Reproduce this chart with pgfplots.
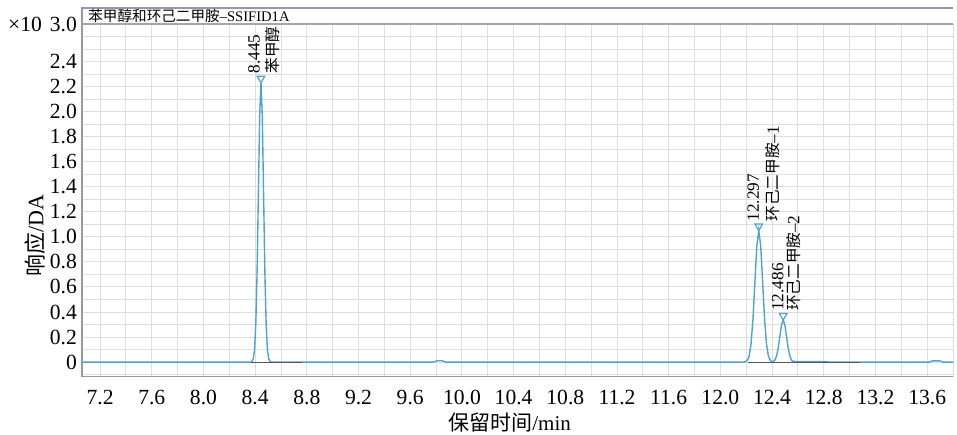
\documentclass[border=0pt]{standalone}
\usepackage{fontspec}
\setmainfont{Liberation Serif}
\newfontfamily\cjk{Noto Sans CJK SC}
\usepackage{pgfplots}
\pgfplotsset{compat=1.18}
\definecolor{trace}{RGB}{78,163,203}
\definecolor{gridc}{RGB}{222,222,226}
\definecolor{basel}{RGB}{85,85,95}
\definecolor{framec}{RGB}{150,150,175}

\begin{document}
\begin{tikzpicture}
\begin{axis}[
  scale only axis, width=435.5pt, height=176.25pt,
  xmin=7.06, xmax=13.8, ymin=-0.115, ymax=2.7,
  axis line style={draw=none},
  tick style={draw=none},
  xtick={7.2,7.6,8.0,8.4,8.8,9.2,9.6,10.0,10.4,10.8,11.2,11.6,12.0,12.4,12.8,13.2,13.6},
  xticklabels={7.2,7.6,8.0,8.4,8.8,9.2,9.6,10.0,10.4,10.8,11.2,11.6,12.0,12.4,12.8,13.2,13.6},
  minor xtick={7.4,7.8,8.2,8.6,9.0,9.4,9.8,10.2,10.6,11.0,11.4,11.8,12.2,12.6,13.0,13.4,13.8},
  ytick={0,0.2,0.4,0.6,0.8,1.0,1.2,1.4,1.6,1.8,2.0,2.2,2.4},
  yticklabels={0,0.2,0.4,0.6,0.8,1.0,1.2,1.4,1.6,1.8,2.0,2.2,2.4},
  minor ytick={-0.1,0.1,0.3,0.5,0.7,0.9,1.1,1.3,1.5,1.7,1.9,2.1,2.3,2.5,2.6},
  extra y ticks={2.7},
  extra y tick labels={×10\hspace{4pt}3.0},
  extra y tick style={grid=none},
  grid=both,
  major grid style={gridc, line width=0.5pt},
  minor grid style={gridc, line width=0.5pt},
  /pgf/number format/assume math mode=true,
  ticklabel style={font=\fontsize{10.8}{12}\selectfont},
  xticklabel shift=3.5pt,
  yticklabel shift=-1pt,
  xlabel={{\cjk 保留时间}/min},
  ylabel={{\cjk 响应}/DA},
  xlabel style={font=\fontsize{10.5}{12}\selectfont, at={(rel axis cs:0.491,0)}, anchor=center, yshift=-23.2pt},
  ylabel style={font=\fontsize{11}{13}\selectfont, at={(rel axis cs:-0.054,0.40)}, anchor=center},
  clip=false,
]
% chromatogram trace
\addplot[trace, line width=0.7pt] coordinates {
 (7.06,0) (8.36,0)
 (8.365,0.001) (8.375,0.005) (8.385,0.025) (8.395,0.098) (8.405,0.302) (8.415,0.724)
 (8.425,1.352) (8.435,1.968) (8.445,2.23) (8.455,1.968) (8.465,1.352) (8.475,0.724)
 (8.485,0.302) (8.495,0.098) (8.505,0.025) (8.515,0.005) (8.525,0.001) (8.53,0)
 (9.78,0) (9.80,0.008) (9.82,0.012) (9.85,0.010) (9.87,0)
 (12.17,0) (12.192,0.002) (12.207,0.012) (12.222,0.046) (12.237,0.142) (12.252,0.341)
 (12.267,0.637) (12.282,0.927) (12.297,1.05) (12.312,0.927) (12.327,0.637) (12.342,0.341)
 (12.357,0.142) (12.372,0.046) (12.387,0.012) (12.395,0.006) (12.402,0.004) (12.408,0.005)
 (12.421,0.015) (12.434,0.045) (12.447,0.109) (12.460,0.204) (12.473,0.297) (12.486,0.336)
 (12.499,0.297) (12.512,0.204) (12.525,0.109) (12.538,0.045) (12.551,0.015) (12.564,0.006)
 (12.577,0.005) (12.82,0.005) (12.84,0)
 (13.62,0) (13.64,0.01) (13.70,0.01) (13.72,0) (13.8,0)
};
% integration baselines
\addplot[basel, line width=0.6pt] coordinates {(8.365,0) (8.76,0)};
\addplot[basel, line width=0.6pt] coordinates {(12.21,0) (13.08,0)};
% peak markers
\addplot[only marks, mark=triangle, mark size=2.2pt, trace,
  mark options={yshift=2.2pt, rotate=180, line width=0.6pt, fill=white}]
  coordinates {(8.445,2.23) (12.297,1.05) (12.486,0.336)};

% frame and title strip
\draw[framec, line width=0.6pt] (rel axis cs:0,0) -- ([yshift=8pt]rel axis cs:0,1) -- ([yshift=8pt]rel axis cs:1,1);
\draw[gray!70, line width=0.6pt] (rel axis cs:0,1) -- (rel axis cs:1,1);
\draw[gray!80, line width=0.6pt] (rel axis cs:0,0) -- (rel axis cs:1,0);
\node[anchor=west, inner sep=0, font=\fontsize{7.3}{8}\selectfont] at ([xshift=3pt,yshift=4pt]rel axis cs:0,1) {{\cjk 苯甲醇和环己二甲胺}–SSIFID1A};

% peak labels
\node[rotate=90, anchor=west, align=left, inner sep=0, font=\fontsize{8.6}{9.5}\selectfont]
  at ([xshift=1.5pt,yshift=4.5pt]axis cs:8.445,2.23) {8.445\\{\cjk\fontsize{7.8}{9.5}\selectfont 苯甲醇}};
\node[rotate=90, anchor=west, align=left, inner sep=0, font=\fontsize{8.6}{10}\selectfont]
  at ([xshift=2.5pt,yshift=4.5pt]axis cs:12.297,1.05) {12.297\\{\cjk\fontsize{7.8}{10}\selectfont 环己二甲胺}–1};
\node[rotate=90, anchor=west, align=left, inner sep=0, font=\fontsize{8.6}{8}\selectfont]
  at ([xshift=1.5pt,yshift=4.5pt]axis cs:12.486,0.336) {12.486\\{\cjk\fontsize{7.8}{8}\selectfont 环己二甲胺}–2};

\coordinate (SW) at (rel axis cs:0,0);
\coordinate (NE) at (rel axis cs:1,1);
\end{axis}
\pgfresetboundingbox
\path[use as bounding box] ([xshift=-41pt,yshift=-29.25pt]SW) rectangle ([xshift=2pt,yshift=12pt]NE);
\end{tikzpicture}
\end{document}
